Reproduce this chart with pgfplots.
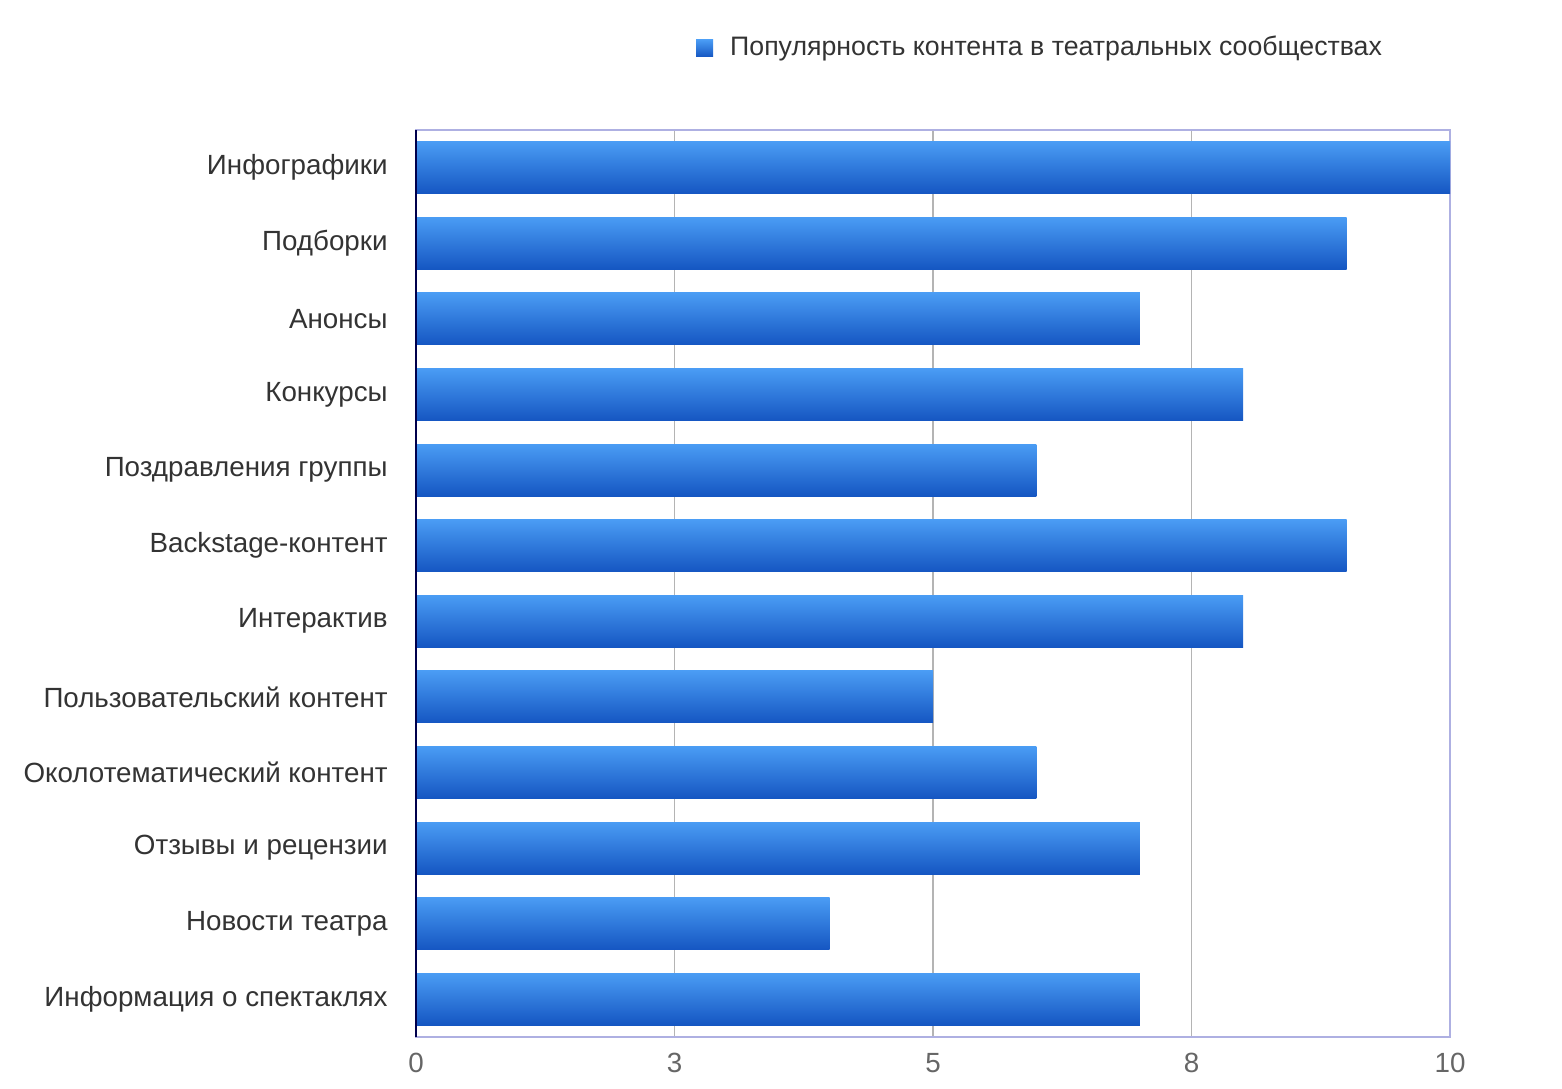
\documentclass[border=0pt]{standalone}
\usepackage{pgfplots}
\pgfplotsset{compat=1.18}
\usepackage{fontspec}
\setmainfont{Liberation Sans}
\definecolor{bartop}{HTML}{4A9CF4}
\definecolor{barbot}{HTML}{1556C2}
\definecolor{framec}{HTML}{AEB0E2}
\definecolor{gridc}{HTML}{B4B4B4}
\definecolor{labc}{HTML}{333333}
\begin{document}
\begin{tikzpicture}[x=1mm,y=1mm]
\begin{axis}[
  scale only axis,
  width=103.4mm, height=90.7mm,
  xbar, xmin=0, xmax=10,
  ymin=-0.5, ymax=11.5,
  bar width=5.2mm,
  xtick={0,2.5,5,7.5,10},
  xticklabels={0,3,5,8,10},
  ytick={0,...,11},
  yticklabels={Информация о спектаклях,Новости театра,Отзывы и рецензии,Околотематический контент,Пользовательский контент,Интерактив,Backstage-контент,Поздравления группы,Конкурсы,Анонсы,Подборки,Инфографики},
  xmajorgrids, grid style={gridc, line width=0.4pt},
  axis line style={framec, line width=0.8pt},
  major tick length=0pt,
  tick label style={font=\fontsize{7.9}{10}\selectfont, text=labc},
  xticklabel style={text=black!60},
  yticklabel style={xshift=-1.6mm},
  xticklabel style={yshift=-0.4mm},
  legend style={at={(0.606,1.090)}, anchor=center, draw=none, fill=none,
    font=\fontsize{7.6}{10}\selectfont, text=labc},
  legend image code/.code={\shade[top color=bartop, bottom color=barbot] (0mm,-0.85mm) rectangle (1.7mm,0.85mm);},
  every axis plot/.append style={xbar, draw=none, top color=bartop, bottom color=barbot, bar shift=0pt},
  clip=false,
]
\addplot coordinates {(7,0)};
\addlegendentry{\hspace{1mm}Популярность контента в театральных сообществах}
\addplot[forget plot] coordinates {(4,1)};
\addplot[forget plot] coordinates {(7,2)};
\addplot[forget plot] coordinates {(6,3)};
\addplot[forget plot] coordinates {(5,4)};
\addplot[forget plot] coordinates {(8,5)};
\addplot[forget plot] coordinates {(9,6)};
\addplot[forget plot] coordinates {(6,7)};
\addplot[forget plot] coordinates {(8,8)};
\addplot[forget plot] coordinates {(7,9)};
\addplot[forget plot] coordinates {(9,10)};
\addplot[forget plot] coordinates {(10,11)};
\draw[black!70!blue, line width=0.8pt] (axis cs:0,-0.5) -- (axis cs:0,11.5);
\end{axis}
\pgfresetboundingbox
\path ([shift={(-41.6mm,-5.1mm)}]current axis.south west) rectangle ([shift={(11.2mm,13.0mm)}]current axis.north east);
\end{tikzpicture}
\end{document}
